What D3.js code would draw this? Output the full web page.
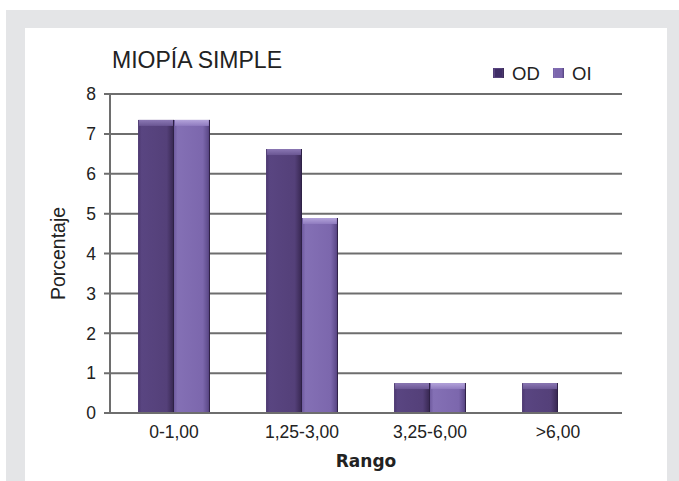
<!DOCTYPE html>
<html>
<head>
<meta charset="utf-8">
<script src="https://cdn.jsdelivr.net/npm/d3@7"></script>
<style>
  html, body { margin: 0; padding: 0; background: #ffffff; }
  svg { display: block; }
</style>
</head>
<body>
<div id="chart"></div>
<script>
// Data: percentage of simple myopia by dioptre range, right eye (OD) and left eye (OI)
const categories = ["0-1,00", "1,25-3,00", "3,25-6,00", ">6,00"];
const seriesNames = ["OD", "OI"];
const odValues = [7.35, 6.62, 0.75, 0.75];
const oiValues = [7.35, 4.89, 0.75, 0];
const yTicks = [0, 1, 2, 3, 4, 5, 6, 7, 8];

const W = 679, H = 481;
const plot = { left: 110, right: 622, top: 94, bottom: 413 };
const labelFont = "Liberation Sans, Arial, sans-serif";

const svg = d3.select("#chart").append("svg")
  .attr("width", W).attr("height", H);

// outer grey frame and white card
svg.append("rect").attr("x", 6).attr("y", 10).attr("width", W - 6).attr("height", H - 10)
  .attr("fill", "#e4e5e7");
svg.append("rect").attr("x", 25).attr("y", 28).attr("width", 667 - 25).attr("height", H - 28)
  .attr("fill", "#ffffff");

const defs = svg.append("defs");
const palette = {
  OD: { edgeL: "#4b376f", body: "#594581", body2: "#544079", edgeR: "#36264f", capTop: "#8b78b4", capBot: "#6a5693" },
  OI: { edgeL: "#6f5b9f", body: "#8470b5", body2: "#7c67ad", edgeR: "#54427f", capTop: "#b3a3da", capBot: "#8f7bbf" }
};
seriesNames.forEach(s => {
  const c = palette[s];
  const g = defs.append("linearGradient").attr("id", "body-" + s)
    .attr("x1", "0").attr("x2", "1").attr("y1", "0").attr("y2", "0");
  g.append("stop").attr("offset", "0%").attr("stop-color", c.edgeL);
  g.append("stop").attr("offset", "10%").attr("stop-color", c.body);
  g.append("stop").attr("offset", "80%").attr("stop-color", c.body2);
  g.append("stop").attr("offset", "100%").attr("stop-color", c.edgeR);
  const t = defs.append("linearGradient").attr("id", "cap-" + s)
    .attr("x1", "0").attr("x2", "0").attr("y1", "0").attr("y2", "1");
  t.append("stop").attr("offset", "0%").attr("stop-color", c.capTop);
  t.append("stop").attr("offset", "100%").attr("stop-color", c.capBot);
});

const x0 = d3.scaleBand().domain(categories).range([plot.left, plot.right]).padding(0);
const x1 = d3.scaleBand().domain(seriesNames).range([0, x0.bandwidth()])
  .paddingInner(0).paddingOuter(0.78);
const y = d3.scaleLinear().domain([0, 8]).range([plot.bottom, plot.top]);

const gridColor = "#6e6e6e";

// horizontal gridlines and y ticks
svg.append("g").selectAll("line").data(yTicks).join("line")
  .attr("x1", plot.left - 6).attr("x2", plot.right)
  .attr("y1", d => y(d)).attr("y2", d => y(d))
  .attr("stroke", gridColor).attr("stroke-width", 2);

// y axis line
svg.append("line")
  .attr("x1", plot.left).attr("x2", plot.left)
  .attr("y1", y(8) - 1).attr("y2", y(0) + 1)
  .attr("stroke", gridColor).attr("stroke-width", 2);

// y tick labels
svg.append("g").selectAll("text").data(yTicks).join("text")
  .attr("x", 96).attr("y", d => y(d)).attr("dy", "0.36em")
  .attr("text-anchor", "end")
  .attr("font-family", labelFont).attr("font-size", 17.5).attr("fill", "#222")
  .text(d => d);

// bars
const rows = categories.map((c, i) => ({ cat: c, values: [
  { s: "OD", v: odValues[i] }, { s: "OI", v: oiValues[i] }] }));

const groups = svg.append("g").selectAll("g").data(rows).join("g")
  .attr("transform", d => `translate(${x0(d.cat)},0)`);

const bars = groups.selectAll("g").data(d => d.values.filter(v => v.v > 0)).join("g");
bars.append("rect")
  .attr("x", d => x1(d.s)).attr("width", x1.bandwidth())
  .attr("y", d => y(d.v)).attr("height", d => y(0) - y(d.v))
  .attr("fill", d => `url(#body-${d.s})`);
bars.append("rect")
  .attr("x", d => x1(d.s) + 1).attr("width", x1.bandwidth() - 2)
  .attr("y", d => y(d.v)).attr("height", 6)
  .attr("fill", d => `url(#cap-${d.s})`);
bars.append("line")
  .attr("x1", d => x1(d.s) + x1.bandwidth() - 0.5).attr("x2", d => x1(d.s) + x1.bandwidth() - 0.5)
  .attr("y1", d => y(d.v)).attr("y2", y(0))
  .attr("stroke", "#2e2146").attr("stroke-width", 1);

// x axis baseline drawn over bars
svg.append("line")
  .attr("x1", plot.left - 6).attr("x2", plot.right)
  .attr("y1", y(0)).attr("y2", y(0))
  .attr("stroke", gridColor).attr("stroke-width", 2);

// x tick labels
svg.append("g").selectAll("text").data(categories).join("text")
  .attr("x", d => x0(d) + x0.bandwidth() / 2).attr("y", 438)
  .attr("text-anchor", "middle")
  .attr("font-family", labelFont).attr("font-size", 17.5).attr("fill", "#222")
  .text(d => d);

// axis titles
svg.append("text")
  .attr("x", (plot.left + plot.right) / 2).attr("y", 467)
  .attr("text-anchor", "middle")
  .attr("font-family", "DejaVu Sans").attr("font-weight", "bold")
  .attr("font-size", 17).attr("fill", "#222")
  .text("Rango");

svg.append("text")
  .attr("transform", `translate(65,${(plot.top + plot.bottom) / 2}) rotate(-90)`)
  .attr("text-anchor", "middle")
  .attr("font-family", labelFont).attr("font-size", 19.5).attr("fill", "#222")
  .text("Porcentaje");

// chart title
svg.append("text")
  .attr("x", 112).attr("y", 68)
  .attr("font-family", labelFont).attr("font-size", 23).attr("fill", "#222")
  .text("MIOPÍA SIMPLE");

// legend
const legendX = { OD: 493, OI: 553 };
const legend = svg.append("g").selectAll("g").data(seriesNames).join("g")
  .attr("transform", d => `translate(${legendX[d]},68)`);
legend.append("rect").attr("width", 11).attr("height", 10)
  .attr("fill", d => `url(#body-${d})`);
legend.append("rect").attr("x", 2).attr("y", 1).attr("width", 7).attr("height", 8)
  .attr("fill", d => d === "OD" ? "#3f2d66" : "#7c67ad");
legend.append("text").attr("x", 19).attr("y", 12)
  .attr("font-family", labelFont).attr("font-size", 18.5).attr("fill", "#222")
  .text(d => d);
</script>
</body>
</html>
